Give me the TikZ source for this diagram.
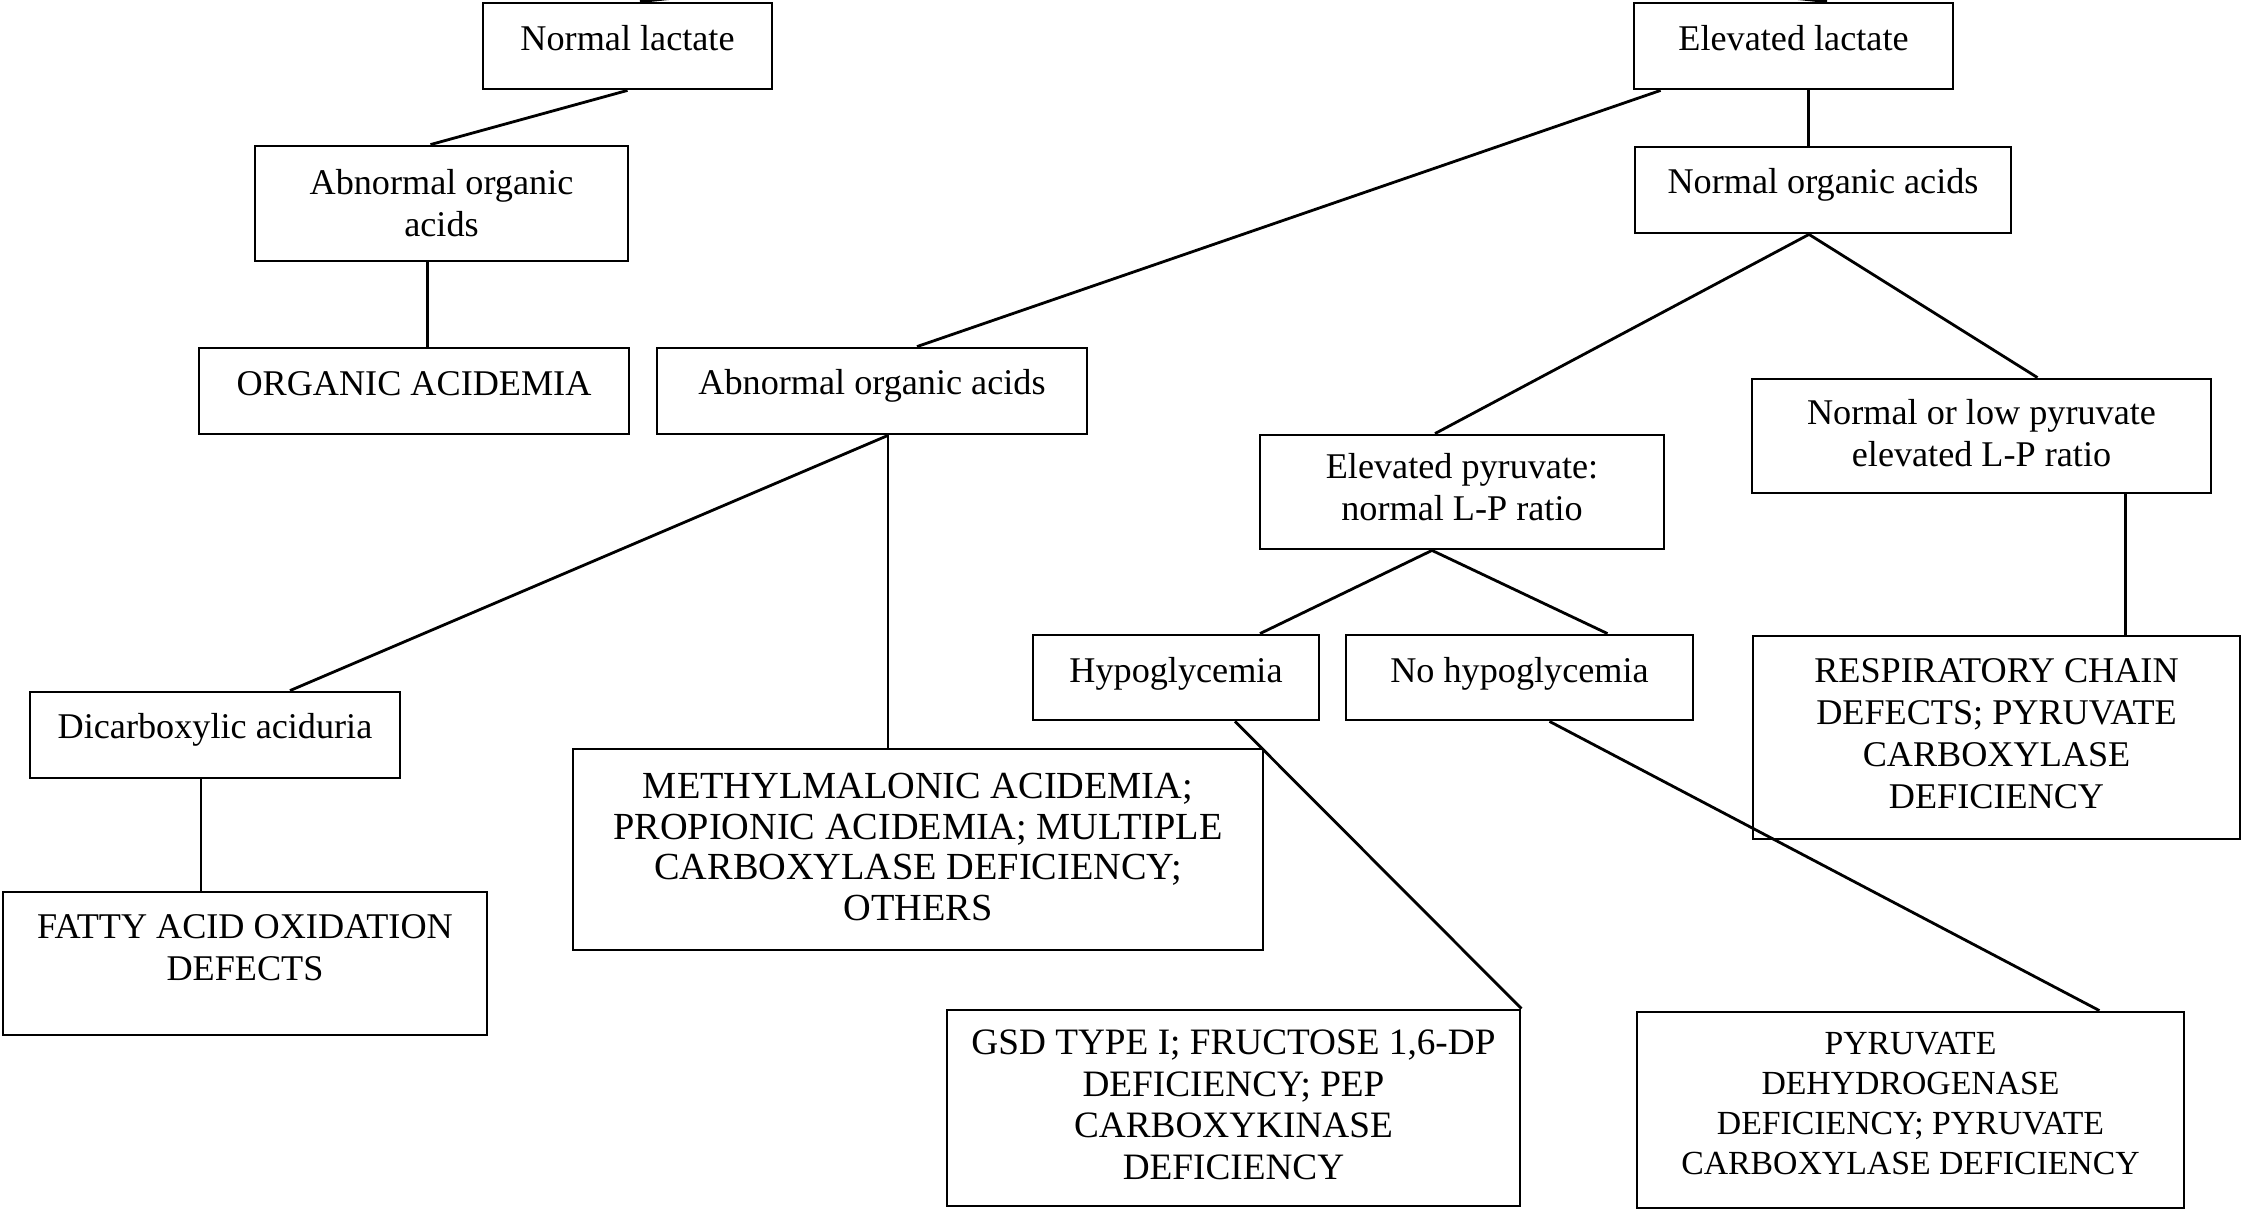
\documentclass[tikz,border=0pt]{standalone}
\usepackage{fontspec}
\setmainfont{Liberation Serif}
\begin{document}
\begin{tikzpicture}[
  box/.style={draw, line width=0.8pt, align=center, inner sep=0pt,
    font=\fontsize{10.3}{12}\selectfont,
    execute at end node={\rule[-#1]{0pt}{0pt}}},
  box/.default=4.5pt,
  link/.style={line width=0.8pt}
]
\useasboundingbox (0,0) rectangle (22.46,-12.10);
% first level
\node[box=4.8pt, minimum width=2.89cm, minimum height=0.86cm] (nl) at (6.275,-0.46) {Normal lactate};
\node[box=4.8pt, minimum width=3.19cm, minimum height=0.86cm] (el) at (17.935,-0.46) {Elevated lactate};
\coordinate (root) at (12.30,0.60);
% second level
\node[box=0.5pt, minimum width=3.73cm, minimum height=1.15cm] (aoaL) at (4.415,-2.035) {Abnormal organic\\acids};
\node[box=5.3pt, minimum width=3.76cm, minimum height=0.86cm] (noa) at (18.23,-1.90) {Normal organic acids};
% third level
\node[box=4pt, minimum width=4.30cm, minimum height=0.86cm] (oa) at (4.14,-3.91) {ORGANIC ACIDEMIA};
\node[box=4.9pt, minimum width=4.30cm, minimum height=0.86cm] (aoaM) at (8.72,-3.91) {Abnormal organic acids};
\node[box=3pt, minimum width=4.04cm, minimum height=1.14cm] (ep) at (14.62,-4.92) {Elevated pyruvate:\\normal L-P ratio};
\node[box=1.6pt, minimum width=4.59cm, minimum height=1.14cm] (nlp) at (19.815,-4.36) {Normal or low pyruvate\\elevated L-P ratio};
% fourth level
\node[box=5.3pt, minimum width=3.70cm, minimum height=0.86cm] (dca) at (2.15,-7.35) {Dicarboxylic aciduria};
\node[box, minimum width=2.86cm, minimum height=0.85cm] (hypo) at (11.76,-6.775) {Hypoglycemia};
\node[box, minimum width=3.47cm, minimum height=0.85cm] (nohypo) at (15.195,-6.775) {No hypoglycemia};
\node[box=2.4pt, minimum width=4.87cm, minimum height=2.03cm] (rc) at (19.965,-7.375) {RESPIRATORY CHAIN\\DEFECTS; PYRUVATE\\CARBOXYLASE\\DEFICIENCY};
\node[box=1.5pt, minimum width=6.90cm, minimum height=2.01cm, font=\fontsize{10.9}{11.6}\selectfont] (mma) at (9.18,-8.495) {METHYLMALONIC ACIDEMIA;\\PROPIONIC ACIDEMIA; MULTIPLE\\CARBOXYLASE DEFICIENCY;\\OTHERS};
% bottom level
\node[box=9pt, minimum width=4.84cm, minimum height=1.43cm] (fao) at (2.45,-9.635) {FATTY ACID OXIDATION\\DEFECTS};
\node[box=2pt, minimum width=5.73cm, minimum height=1.96cm, font=\fontsize{10.6}{11.8}\selectfont] (gsd) at (12.335,-11.08) {GSD TYPE I; FRUCTOSE 1,6-DP\\DEFICIENCY; PEP\\CARBOXYKINASE\\DEFICIENCY};
\node[box=4pt, minimum width=5.47cm, minimum height=1.96cm, font=\fontsize{9.6}{11.4}\selectfont] (pdh) at (19.105,-11.10) {PYRUVATE\\DEHYDROGENASE\\DEFICIENCY; PYRUVATE\\CARBOXYLASE DEFICIENCY};
% connectors
\draw[link] ([xshift=1.25mm]nl.north) -- (root);
\draw[link] ([xshift=3.35mm]el.north) -- (root);
\draw[link] (nl.south) -- ([xshift=-1.1mm]aoaL.north);
\draw[link] ([xshift=-1.4mm]aoaL.south) -- ([xshift=-1.4mm]aoaL.south |- oa.north);
\draw[link] ([xshift=2.8mm]el.south west) -- ([xshift=4.5mm]aoaM.north);
\draw[link] ([xshift=1.5mm]el.south) -- ([xshift=1.5mm]el.south |- noa.north);
\draw[link] ([xshift=-1.4mm]noa.south) -- ([xshift=-2.7mm]ep.north);
\draw[link] ([xshift=-1.4mm]noa.south) -- ([xshift=5.6mm]nlp.north);
\draw[link] ([xshift=1.6mm]aoaM.south) -- ([xshift=7.5mm]dca.north);
\draw[link] ([xshift=1.6mm]aoaM.south) -- ([xshift=1.6mm]aoaM.south |- mma.north);
\draw[link] ([xshift=-1.4mm]dca.south) -- ([xshift=-1.4mm]dca.south |- fao.north);
\draw[link] ([xshift=-3mm]ep.south) -- ([xshift=8.4mm]hypo.north);
\draw[link] ([xshift=-3mm]ep.south) -- ([xshift=8.8mm]nohypo.north);
\draw[link] ([xshift=5.9mm]hypo.south) -- (gsd.north east);
\draw[link] ([xshift=3mm]nohypo.south) -- ([xshift=-8.6mm]pdh.north east);
\draw[link] ([xshift=14.4mm]nlp.south) -- ([xshift=14.4mm]nlp.south |- rc.north);
\end{tikzpicture}
\end{document}
